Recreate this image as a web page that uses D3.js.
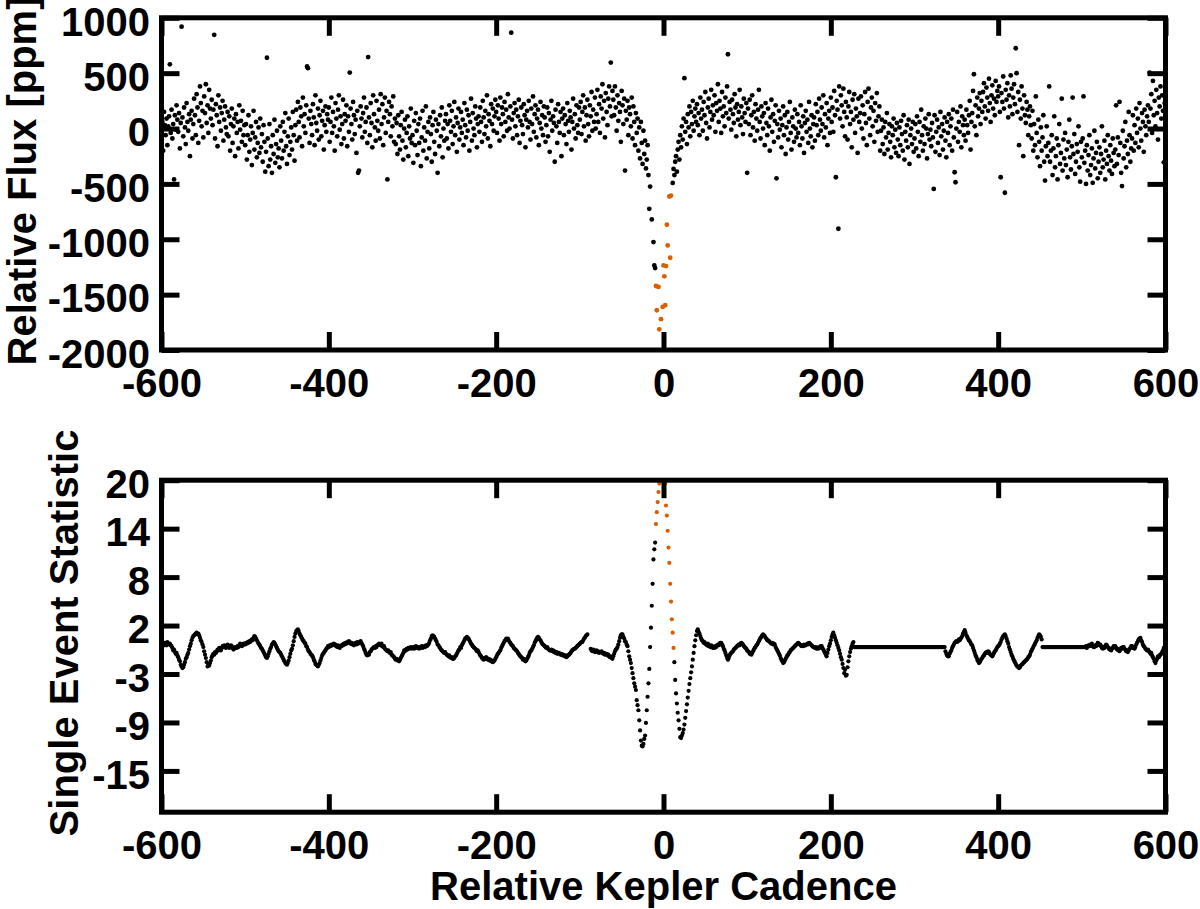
<!DOCTYPE html>
<html>
<head>
<meta charset="utf-8">
<script src="https://cdn.jsdelivr.net/npm/d3@7"></script>
<style>
  body { margin: 0; background: #fff; }
  text { font-family: "Liberation Sans", Arial, Helvetica, sans-serif; font-weight: bold; fill: #000; }
</style>
</head>
<body>
<script>
// cadence of the first value in each series (one value per cadence)
const cadenceStart = -600;

const xTicks = [-600, -400, -200, 0, 200, 400, 600];
const fluxTicks = [1000, 500, 0, -500, -1000, -1500, -2000];
const sesTicks = [20, 14.25, 8.5, 2.75, -3, -8.75, -14.5];

// cadences drawn in orange (in transit)
const fluxTransit = [-9, 9];
const sesTransit = [-9, 12];

// relative flux [ppm], cadence -600 .. 600
const flux = [
  -120, 60, -200, 150, 30, -60, 90, -150, 20, 110, 580, -40, 170, -90, 40, -460, 120, -10, 210, 80,
  -30, 140, -180, 50, 920, 100, -70, 190, 10, -140, 230, 60, -20, 130, -250, 80, 160, -90, 40, 270,
  120, -60, 310, 190, -130, 70, 380, 230, 20, 160, -80, 290, 140, 400, 50, 210, -40, 350, 180, 90,
  260, 30, 170, 846, -90, 220, 120, -160, 300, 60, 190, -20, 140, 250, -110, 80, 200, 10, -50, 150,
  -70, 110, -200, 40, 180, -130, 20, 90, -250, 130, -40, 60, -180, 210, -10, 70, -120, 160, -60, 30,
  -150, 40, -280, -60, 120, -210, -100, 20, -330, -40, 160, -190, -80, 60, -260, -130, 10, -220, 90, -170,
  -50, -300, 30, -120, -390, -210, 639, -90, -340, 40, -280, -160, -400, -60, -230, 80, -310, -140, -20, -260,
  -180, -350, 20, -110, -270, 60, -200, -30, 140, -160, -320, -70, 90, -240, -120, 10, -190, 150, -60, -290,
  30, 170, -110, 240, 60, -80, 190, 110, -160, 280, 20, 130, -40, 210, 560, 545, 90, -130, 160, 40,
  -60, 220, 100, -150, 300, 50, -20, 180, -100, 120, 250, -70, 70, 160, -190, 30, 200, -30, 130, 80,
  190, -120, 60, 280, -40, 150, 20, -200, 230, 90, -70, 170, 300, -10, 110, -140, 40, 260, -90, 130,
  70, 210, -160, 110, -30, 505, 180, 40, -100, 240, 120, -50, 80, -220, 160, -400, -380, 20, 200, 90,
  -80, 140, 280, -30, 60, 190, -130, 645, 100, -60, 230, 50, -170, 300, 130, 10, -110, 250, 70, -20,
  170, -90, 310, 40, 220, -150, 100, 280, -40, 160, -460, 60, 240, 130, -70, 200, 20, 290, -120, 90,
  -140, 50, -230, 120, -70, -190, 30, 150, -110, -280, 0, 80, -170, -40, 110, -250, 20, -90, 180, -130,
  -60, -310, 70, -150, 140, -20, -240, 40, -130, 90, -340, -80, 160, -200, 10, -110, 200, -270, -30, 60,
  -180, 100, -50, -300, 30, 150, -120, -230, 80, -20, -400, 40, -160, 120, -70, 190, -260, 0, -110, 70,
  130, -90, 40, -180, 210, 70, -30, 160, -140, 20, 240, -60, 100, -210, 50, 180, -100, 10, 150, -40,
  80, -150, 230, 30, -80, 170, -20, 120, -200, 60, 270, -110, 140, 0, -60, 200, 90, -170, 40, 110,
  -30, 190, 60, -120, 250, 100, -50, 160, 20, 300, -90, 130, 70, -160, 220, 40, 180, -20, 110, 260,
  150, -40, 210, 90, -110, 280, 40, 190, 130, -70, 240, 60, 170, -20, 310, 100, 0, 200, 866, 80,
  -90, 140, 230, 20, 170, -60, 110, 260, -130, 70, 190, 30, -50, 220, 120, -170, 80, 160, 10, 250,
  60, -100, 180, 40, 290, -30, 130, 210, -80, 90, 170, -150, 50, 240, 0, 120, -60, 200, 100, -120,
  30, 190, -70, 140, -210, 80, 250, -20, 110, 50, -300, 170, 20, -130, 220, 60, -40, 150, -250, 90,
  180, -60, 120, 40, -140, 230, 70, -30, 160, 100, -190, 60, 270, 0, 130, -90, 210, 30, -40, 190,
  80, 240, -50, 150, 300, 20, 190, -110, 120, 260, 40, -70, 210, 110, 330, -20, 170, 60, 280, 0,
  130, 350, 60, 220, -40, 290, 180, 400, 90, 250, -80, 320, 150, 30, 270, 380, 200, 596, 110, 340,
  260, 120, 380, 190, -20, 300, 70, 230, 150, -120, 340, 210, 40, 270, -380, 160, 80, 250, -60, 190,
  130, 20, 280, -90, 200, 60, -150, 140, -40, 90, -200, 10, -270, 60, -130, -320, -20, -230, -110, -360,
  -280, -150, -420, -725, -524, null, -821, null, -1025, -1236, -1260, -1422, -1641, null, -1430, -1813, null, -1722, null, -1611,
  -1236, -1335, -1596, -1242, -869, -1056, null, -614, -1167, -605, null, -491, -365, -420, -300, -250, -390, -190, -120, -280,
  -60, -170, 20, -100, 90, 455, -30, 60, -140, 130, 10, 200, -70, 150, 40, 250, -20, 110, 180, 60,
  220, 30, 140, -60, 280, 90, 170, -20, 240, 120, 330, 50, -90, 190, 270, 10, 150, 350, 80, 210,
  120, 300, -30, 230, 160, 400, 60, 250, 180, -40, 330, 110, 200, 20, 280, 140, 380, 671, 90, 240,
  170, -10, 260, 130, 50, 310, 190, -70, 220, 80, 150, 350, 30, 200, 100, -50, 270, 140, 60, 230,
  -400, 180, 40, 260, -60, 120, 300, 10, 150, -110, 220, 90, -20, 170, 350, 60, -90, 200, 110, 0,
  140, -150, 230, 50, -60, 180, 20, -200, 100, 260, -30, 130, -120, 70, 210, -450, 40, -80, 160, -10,
  90, -170, 30, 200, -60, 120, -230, 10, 150, -100, 60, 240, -40, -190, 100, 20, -120, 170, 0, -80,
  130, -40, 60, -150, 210, 20, -90, 110, -220, 50, 160, -30, 80, -130, 240, 0, -70, 120, -170, 40,
  100, -110, 220, 30, 150, -60, 270, 80, -20, 190, 40, 300, -80, 130, 10, 230, -150, 90, 160, -40,
  280, 60, 190, -30, 340, 120, -440, 250, 170, -905, 380, 90, 300, 210, 20, 360, 150, -70, 240, 100,
  -100, 200, 330, 40, 150, -170, 260, 80, 310, -40, 180, 110, -220, 270, 60, 140, 290, 0, 210, -90,
  130, 330, 50, -150, 240, 360, 90, -60, 190, 280, 20, 160, -120, 230, 70, 320, -30, 110, 200, -200,
  -20, 80, -140, 10, -230, 60, -80, 140, -190, -40, 40, -120, -260, 20, -60, 90, -170, -10, -220, 50,
  -100, -250, 10, -150, 70, -50, -200, 120, -280, -30, -110, 30, -170, 80, -320, -60, 0, -140, 60, -210,
  -90, 40, -180, 110, -30, -250, 60, -120, 170, -60, -200, 20, -140, 90, 0, -270, -50, 130, -100, -10,
  -160, 50, -80, -545, 120, -210, -30, 80, -130, 10, -240, 150, -70, 40, -190, -20, 100, -110, -260, 60,
  -40, 130, -150, 20, 90, -200, 170, -80, -395, -485, 0, 150, -120, 60, -30, 200, -170, 110, 30, -60,
  80, -110, 170, 30, -40, 120, 250, -190, 60, 140, 340, 490, 20, 210, -60, 280, 110, 180, 320, 40,
  250, 150, 330, 410, 200, 90, 370, 280, 160, 450, 230, 60, 300, 390, 180, 270, 120, 430, 240, 340,
  290, 380, 150, -440, 320, 240, 470, 180, -580, 350, 260, 410, 100, 300, 200, 480, 360, 130, 280, 400,
  220, 725, 500, 150, 330, -150, 260, 90, 380, 180, -250, 300, 120, 50, 240, 170, -60, 110, 200, 30,
  -90, 160, -200, 40, -150, 290, -40, -260, 80, -120, -340, 10, -200, -80, 120, -300, -470, -160, 20, -250,
  -130, 380, -300, -200, -60, -420, -180, 110, -350, -250, -90, -460, -150, 40, -320, -220, 270, -380, -100, -270,
  -40, -330, -190, -440, -120, 80, -260, -370, -160, 280, -230, -50, -410, -300, -140, -210, 20, -350, -480, -120,
  -260, -90, 290, -310, -200, -500, -150, -380, -240, -60, -420, -330, -180, -490, -270, -20, -360, -220, -120, -450,
  -300, -170, -400, -230, 20, -350, -280, -110, -460, -200, -320, -60, -250, -380, -150, -290, -410, -90, -220, -340,
  -190, 210, -320, -80, -240, 240, -130, -400, -520, -20, -270, -160, 60, -350, -110, -230, 150, -60, -300, -180,
  -90, 120, -200, 30, -130, 180, -40, 90, -170, 230, 0, -110, 140, 60, -210, 170, 20, -60, 110, 210,
  60, 505, 180, 310, -40, 430, 120, 250, 20, 350, 140, -100, 280, 200, 380, 90, 300, 160, -305, 230, 120
];

// single event statistic, cadence -600 .. 600
const ses = [
  0.5, 0.3, 0.6, 0.4, 0.7, 0.5, 0.4, 0.8, 0.6, 0.5, 0.6, 0.4, 0.3, 0.1, -0.2, -0.1, -0.4, -0.6, -0.5, -0.8,
  -1.0, -1.3, -1.5, -1.9, -2.1, -2.3, -2.2, -1.9, -1.6, -1.2, -1.0, -0.7, -0.5, -0.1, 0.3, 0.6, 1.0, 1.3, 1.5, 1.6,
  1.7, 1.8, 1.9, 1.7, 1.8, 1.6, 1.3, 1.0, 0.8, 0.5, 0.2, -0.3, -0.7, -1.1, -1.6, -2.1, -1.9, -2.0, -1.7, -1.4,
  -1.0, -0.8, -0.6, -0.7, -0.4, -0.5, -0.3, -0.1, -0.2, 0.1, 0.0, -0.2, 0.1, 0.3, 0.2, 0.4, 0.2, 0.1, 0.3, 0.5,
  0.3, 0.1, 0.2, 0.4, 0.3, 0.1, -0.1, 0.0, 0.2, 0.1, 0.1, 0.3, 0.2, 0.4, 0.6, 0.5, 0.3, 0.4, 0.6, 0.5,
  0.5, 0.7, 0.6, 0.8, 0.7, 0.9, 0.8, 1.0, 1.1, 1.0, 1.3, 1.5, 1.4, 1.2, 1.0, 0.8, 0.6, 0.5, 0.3, 0.1,
  0.0, -0.2, -0.4, -0.6, -0.8, -1.0, -1.1, -0.9, -0.6, -0.3, 0.0, 0.2, 0.5, 0.6, 0.8, 0.7, 0.5, 0.3, 0.1, -0.1,
  -0.3, -0.4, -0.5, -0.7, -0.9, -1.1, -1.3, -1.5, -1.7, -1.8, -1.9, -1.7, -1.4, -1.0, -0.6, -0.2, 0.0, 0.4, 0.9, 1.4,
  1.8, 2.1, 2.2, 2.3, 2.1, 1.8, 1.6, 1.4, 1.2, 1.0, 0.9, 0.7, 0.6, 0.3, 0.2, -0.1, -0.3, -0.4, -0.6, -0.7,
  -0.8, -1.0, -1.3, -1.5, -1.8, -1.9, -2.0, -2.1, -1.9, -1.7, -1.4, -1.1, -0.8, -0.6, -0.5, -0.3, -0.2, 0.0, 0.1, 0.3,
  0.2, 0.4, 0.3, 0.5, 0.4, 0.5, 0.6, 0.4, 0.5, 0.3, 0.2, 0.4, 0.3, 0.1, 0.3, 0.3, 0.5, 0.4, 0.6, 0.5,
  0.7, 0.6, 0.8, 0.7, 0.9, 0.8, 0.6, 0.7, 0.5, 0.6, 0.4, 0.6, 0.7, 0.5, 0.8, 0.6, 0.7, 0.8, 0.9, 0.7,
  0.5, 0.3, 0.0, -0.2, -0.5, -0.7, -0.8, -0.6, -0.7, -0.4, -0.3, -0.1, 0.0, 0.1, 0.2, 0.1, 0.3, 0.2, 0.4, 0.5,
  0.6, 0.5, 0.4, 0.6, 0.3, 0.2, 0.3, 0.0, -0.1, -0.2, -0.3, -0.2, -0.4, -0.5, -0.4, -0.7, -0.8, -0.9, -1.0, -1.2,
  -1.3, -1.2, -1.4, -1.3, -1.5, -1.3, -1.1, -0.9, -0.7, -0.5, -0.2, -0.3, -0.1, 0.0, -0.1, 0.1, 0.0, 0.1, 0.2, 0.0,
  0.1, 0.2, 0.0, 0.1, 0.3, 0.2, 0.1, 0.2, 0.0, 0.1, 0.2, 0.3, 0.1, 0.2, 0.3, 0.2, 0.4, 0.3, 0.4, 0.5,
  0.7, 1.0, 1.2, 1.5, 1.6, 1.5, 1.4, 1.2, 1.0, 0.8, 0.5, 0.4, 0.2, 0.1, -0.1, -0.2, -0.3, -0.4, -0.5, -0.4,
  -0.6, -0.7, -0.8, -0.9, -0.8, -1.0, -1.1, -1.0, -1.2, -1.2, -1.1, -0.9, -0.8, -0.6, -0.4, -0.2, -0.1, 0.2, 0.1, 0.4,
  0.6, 0.8, 1.0, 1.2, 1.3, 1.4, 1.3, 1.2, 1.0, 0.8, 0.6, 0.5, 0.3, 0.2, 0.1, 0.0, -0.1, -0.3, -0.2, -0.4,
  -0.6, -0.8, -0.9, -1.1, -1.2, -1.3, -1.1, -1.2, -1.0, -1.1, -1.3, -1.2, -1.4, -1.3, -1.5, -1.4, -1.6, -1.5, -1.4, -1.2,
  -1.0, -0.8, -0.6, -0.5, -0.3, -0.2, 0.1, 0.3, 0.5, 0.7, 0.9, 1.0, 1.2, 1.1, 1.2, 1.0, 0.8, 0.7, 0.5, 0.4,
  0.3, 0.1, 0.0, -0.1, -0.2, -0.3, -0.5, -0.6, -0.8, -0.9, -1.0, -1.1, -1.3, -1.2, -1.4, -1.5, -1.4, -1.2, -1.0, -0.8,
  -0.5, -0.3, -0.2, 0.0, 0.2, 0.4, 0.7, 0.9, 1.1, 1.3, 1.4, 1.3, 1.1, 1.0, 0.8, 0.6, 0.5, 0.4, 0.3, 0.2,
  0.1, 0.2, 0.0, -0.1, -0.2, -0.2, -0.1, -0.3, -0.2, -0.4, -0.3, -0.5, -0.4, -0.6, -0.5, -0.5, -0.6, -0.7, -0.6, -0.8,
  -0.7, -0.8, -0.9, -0.8, -1.0, -0.9, -0.8, -0.7, -0.6, -0.5, -0.3, -0.2, -0.1, 0.0, 0.0, 0.1, 0.2, 0.3, 0.4, 0.5,
  0.6, 0.7, 0.8, 0.8, 1.0, 1.2, 1.3, 1.5, 1.6, 1.7, null, null, null, 0.0, -0.2, -0.3, -0.1, -0.2, -0.4, -0.3,
  -0.2, -0.4, -0.3, -0.5, -0.4, -0.4, -0.3, -0.5, -0.6, -0.5, -0.7, -0.6, -0.6, -0.8, -0.7, -0.9, -1.0, -0.9, -1.1, -1.2,
  -0.9, -0.6, -0.3, -0.1, 0.0, 0.2, 0.5, 0.9, 1.3, 1.6, 1.7, 1.7, 1.4, 1.2, 0.9, 0.8, 0.5, 0.3, -0.3, -0.9,
  -1.3, -1.7, -2.3, -2.9, -3.5, -4.1, -4.5, -4.9, -6.1, -6.7, -7.3, -8.5, -9.7, -10.9, -11.5, -11.6, -11.3, -10.7, -10.3, -8.8,
  -7.3, -5.7, -4.1, -2.4, 0.2, 2.5, 5.1, 7.7, 10.6, 11.8, 12.6, 14.8, 16.2, 17.4, 18.6, 19.6, 20.6, 21.4, 21.9, 22.0,
  21.6, 20.8, 19.6, 17.0, 15.8, 14.0, 12.0, 10.2, 7.7, 5.6, 3.5, 1.9, 0.1, -1.6, -3.7, -5.3, -6.5, -7.6, -8.5, -9.5,
  -10.5, -10.6, -10.3, -10.0, -9.6, -9.0, -8.2, -7.4, -6.6, -5.8, -5.0, -4.2, -3.5, -2.8, -2.1, -1.3, -0.5, 0.3, 1.0, 1.6,
  2.1, 2.3, 2.0, 1.8, 1.5, 1.2, 1.0, 0.9, 0.7, 0.8, 0.6, 0.5, 0.4, 0.6, 0.3, 0.4, 0.2, 0.4, 0.3, 0.1,
  0.2, 0.1, 0.3, 0.2, 0.4, 0.5, 0.4, 0.6, 0.7, 0.7, 0.5, 0.3, 0.0, -0.2, -0.5, -0.8, -1.1, -1.3, -1.1, -0.8,
  -0.6, -0.5, -0.4, -0.3, -0.1, 0.0, 0.1, 0.2, 0.3, 0.4, 0.5, 0.4, 0.6, 0.7, 0.6, 0.5, 0.3, 0.2, 0.1, 0.0,
  -0.2, -0.3, -0.4, -0.6, -0.5, -0.7, -0.5, -0.3, -0.1, 0.1, 0.2, 0.4, 0.5, 0.7, 0.9, 1.1, 1.3, 1.4, 1.6, 1.7,
  1.6, 1.5, 1.3, 1.2, 1.0, 1.0, 0.9, 0.8, 0.7, 0.6, 0.7, 0.5, 0.6, 0.5, 0.2, 0.0, -0.2, -0.4, -0.6, -0.8,
  -1.1, -1.3, -1.5, -1.7, -1.6, -1.4, -1.2, -1.0, -0.8, -0.7, -0.5, -0.4, -0.2, -0.1, 0.0, 0.1, 0.2, 0.3, 0.4, 0.5,
  0.6, 0.7, 0.6, 0.5, 0.4, 0.3, 0.4, 0.3, 0.5, 0.4, 0.4, 0.5, 0.6, 0.5, 0.7, 0.6, 0.5, 0.4, 0.3, 0.2,
  0.2, 0.1, 0.2, 0.0, 0.1, 0.0, 0.2, 0.1, 0.3, 0.3, 0.1, -0.1, -0.3, -0.5, -0.7, -0.9, -0.5, -0.1, 0.3, 0.6,
  1.0, 1.4, 1.7, 1.9, 1.6, 1.3, 1.0, 0.7, 0.4, 0.1, -0.2, -0.6, -1.0, -1.3, -1.8, -2.3, -2.9, -2.5, -3.2, -3.1,
  -2.2, -1.5, -0.9, -0.4, 0.0, 0.3, 0.6, 0.8, 0.2, 0.2, 0.2, 0.2, 0.2, 0.2, 0.2, 0.2, 0.2, 0.2, 0.2, 0.2,
  0.2, 0.2, 0.2, 0.2, 0.2, 0.2, 0.2, 0.2, 0.2, 0.2, 0.2, 0.2, 0.2, 0.2, 0.2, 0.2, 0.2, 0.2, 0.2, 0.2,
  0.2, 0.2, 0.2, 0.2, 0.2, 0.2, 0.2, 0.2, 0.2, 0.2, 0.2, 0.2, 0.2, 0.2, 0.2, 0.2, 0.2, 0.2, 0.2, 0.2,
  0.2, 0.2, 0.2, 0.2, 0.2, 0.2, 0.2, 0.2, 0.2, 0.2, 0.2, 0.2, 0.2, 0.2, 0.2, 0.2, 0.2, 0.2, 0.2, 0.2,
  0.2, 0.2, 0.2, 0.2, 0.2, 0.2, 0.2, 0.2, 0.2, 0.2, 0.2, 0.2, 0.2, 0.2, 0.2, 0.2, 0.2, 0.2, 0.2, 0.2,
  0.2, 0.2, 0.2, 0.2, 0.2, 0.2, 0.2, 0.2, 0.2, 0.2, 0.2, 0.2, 0.2, 0.2, 0.2, 0.2, 0.2, -0.3, -0.6, -0.8,
  -0.9, -0.9, -0.6, -0.4, -0.2, 0.1, 0.3, 0.5, 0.7, 0.8, 0.9, 0.8, 0.9, 1.1, 1.0, 1.2, 1.3, 1.5, 1.8, 2.0,
  2.2, 1.9, 1.6, 1.4, 1.2, 1.0, 0.9, 0.7, 0.5, 0.4, 0.1, -0.2, -0.5, -0.8, -1.0, -1.3, -1.5, -1.7, -1.6, -1.4,
  -1.2, -1.1, -0.9, -0.8, -0.6, -0.5, -0.4, -0.5, -0.3, -0.4, -0.6, -0.7, -0.8, -0.9, -0.7, -0.5, -0.3, -0.2, 0.0, 0.2,
  0.3, 0.4, 0.6, 0.8, 1.1, 1.3, 1.5, 1.6, 1.7, 1.5, 1.2, 0.9, 0.6, 0.2, -0.1, -0.4, -0.7, -0.9, -1.2, -1.4,
  -1.6, -1.8, -2.0, -2.1, -2.2, -2.3, -2.2, -2.0, -1.9, -1.8, -1.7, -1.6, -1.5, -1.4, -1.3, -1.2, -1.0, -0.9, -0.7, -0.4,
  -0.2, 0.0, 0.2, 0.4, 0.6, 0.8, 1.0, 1.3, 1.5, 1.7, 1.6, 1.4, 1.1, 0.2, 0.2, 0.2, 0.2, 0.2, 0.2, 0.2,
  0.2, 0.2, 0.2, 0.2, 0.2, 0.2, 0.2, 0.2, 0.2, 0.2, 0.2, 0.2, 0.2, 0.2, 0.2, 0.2, 0.2, 0.2, 0.2, 0.2,
  0.2, 0.2, 0.2, 0.2, 0.2, 0.2, 0.2, 0.2, 0.2, 0.2, 0.2, 0.2, 0.2, 0.2, 0.2, 0.2, 0.2, 0.2, 0.2, 0.2,
  0.2, 0.2, 0.2, 0.2, 0.2, 0.3, 0.1, 0.3, 0.4, 0.3, 0.5, 0.4, 0.6, 0.3, 0.2, 0.2, 0.4, 0.3, 0.5, 0.7,
  0.6, 0.4, 0.5, 0.3, 0.1, 0.0, 0.2, 0.1, 0.3, 0.5, 0.4, 0.2, 0.1, -0.1, 0.0, -0.2, 0.0, 0.1, 0.3, 0.2,
  0.3, 0.1, -0.1, 0.0, -0.2, -0.3, -0.1, 0.1, 0.0, 0.2, 0.2, 0.0, -0.1, -0.3, -0.2, -0.4, -0.2, 0.0, 0.1, 0.3,
  0.3, 0.1, 0.2, 0.0, 0.2, 0.5, 0.7, 0.9, 1.1, 1.2, 1.3, 1.0, 0.8, 0.5, 0.3, 0.2, 0.0, -0.1, -0.2, -0.1,
  -0.3, -0.4, -0.6, -0.5, -0.8, -1.0, -1.2, -1.5, -1.7, -1.4, -1.2, -0.9, -1.0, -0.8, -0.7, -0.6, -0.4, -0.2, 0.1, 0.2, 0.4
];

const orange = "#d95f02";
const left = 161.5, right = 1165.5;

const svg = d3.select("body").append("svg")
    .attr("width", 1200)
    .attr("height", 909);

const x = d3.scaleLinear().domain([-600, 600]).range([left, right]);

const panels = [
  {
    id: "flux", values: flux, transit: fluxTransit, ticks: fluxTicks, r: 2.4,
    y: d3.scaleLinear().domain([-2000, 1000]).range([350, 17.8]),
    fmt: d => String(d), title: "Relative Flux [ppm]", titleX: 36, titleY: 181
  },
  {
    id: "ses", values: ses, transit: sesTransit, ticks: sesTicks, r: 2.1,
    y: d3.scaleLinear().domain([-19.4, 20]).range([812.2, 480.2]),
    fmt: d => String(Math.floor(d)), title: "Single Event Statistic", titleX: 78, titleY: 633
  }
];

panels.forEach(p => {
  const [bottom, top] = p.y.range();

  svg.append("clipPath").attr("id", "clip-" + p.id)
    .append("rect")
    .attr("x", left).attr("y", top)
    .attr("width", right - left).attr("height", bottom - top);

  const pts = p.values
    .map((v, i) => ({ c: cadenceStart + i, v: v }))
    .filter(d => d.v !== null);

  svg.append("g")
    .attr("clip-path", `url(#clip-${p.id})`)
    .selectAll("circle")
    .data(pts)
    .join("circle")
    .attr("cx", d => x(d.c))
    .attr("cy", d => p.y(d.v))
    .attr("r", p.r)
    .attr("fill", d => d.c >= p.transit[0] && d.c <= p.transit[1] ? orange : "#000");

  // axes with inward ticks on all four sides
  const axes = [
    { axis: d3.axisBottom(x).tickValues(xTicks).tickFormat(d => String(d)), t: `translate(0,${bottom})`, labels: true },
    { axis: d3.axisTop(x).tickValues(xTicks).tickFormat(""), t: `translate(0,${top})` },
    { axis: d3.axisLeft(p.y).tickValues(p.ticks).tickFormat(p.fmt), t: `translate(${left},0)`, labels: true },
    { axis: d3.axisRight(p.y).tickValues(p.ticks).tickFormat(""), t: `translate(${right},0)` }
  ];

  axes.forEach((a, k) => {
    const g = svg.append("g")
      .attr("transform", a.t)
      .call(a.axis.tickSizeInner(-18).tickSizeOuter(0));
    g.select(".domain").remove();
    g.selectAll(".tick line").attr("stroke", "#000").attr("stroke-width", 5);
    g.attr("font-family", null).attr("font-size", 40);
    if (!a.labels) g.selectAll(".tick text").remove();
    if (k === 0) g.selectAll(".tick text").attr("y", 47).attr("dy", null);
    if (k === 2) g.selectAll(".tick text").attr("x", -11.5).attr("dy", "0.43em");
  });

  svg.append("rect")
    .attr("x", left).attr("y", top)
    .attr("width", right - left).attr("height", bottom - top)
    .attr("fill", "none")
    .attr("stroke", "#000")
    .attr("stroke-width", 5);

  svg.append("text")
    .attr("transform", `translate(${p.titleX},${p.titleY}) rotate(-90)`)
    .attr("text-anchor", "middle")
    .attr("font-size", 40)
    .text(p.title);
});

svg.append("text")
  .attr("x", (left + right) / 2)
  .attr("y", 900)
  .attr("text-anchor", "middle")
  .attr("font-size", 40)
  .text("Relative Kepler Cadence");
</script>
</body>
</html>
